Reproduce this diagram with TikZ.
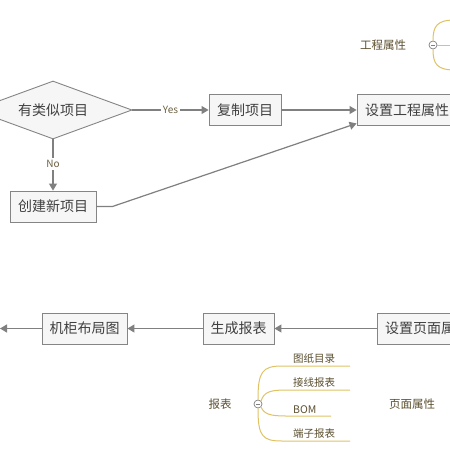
\documentclass[tikz,border=0pt]{standalone}
\usepackage{fontspec}
\newfontfamily\cjk{Noto Sans CJK SC}
\usetikzlibrary{arrows.meta,shapes.geometric,calc}
\definecolor{boxline}{HTML}{858585}
\definecolor{boxfill}{HTML}{F6F6F6}
\definecolor{arrowc}{HTML}{808080}
\definecolor{boxtext}{HTML}{404040}
\definecolor{lbltext}{HTML}{6B6040}
\definecolor{mindtext}{HTML}{5C5030}
\definecolor{gold}{HTML}{E0C265}
\tikzset{
  stepbox/.style={draw=boxline, fill=boxfill, line width=0.9pt, minimum height=31pt,
    inner sep=0pt, text=boxtext, font=\cjk\fontsize{14}{16}\selectfont},
  decision/.style={diamond, draw=boxline, fill=boxfill, line width=0.9pt, aspect=2.72,
    minimum width=158pt, minimum height=58pt, inner sep=0pt, text=boxtext,
    font=\cjk\fontsize{14}{16}\selectfont},
  arr/.style={draw=arrowc, line width=1.2pt, -{Triangle[length=7pt,width=8pt]}},
  plainline/.style={draw=arrowc, line width=1.2pt},
  edgelbl/.style={fill=white, inner sep=2pt, text=lbltext, font=\cjk\fontsize{10}{12}\selectfont},
  mindlbl/.style={text=mindtext, inner sep=0pt, font=\cjk\fontsize{11.5}{13}\selectfont},
  leaflbl/.style={text=mindtext, inner sep=0pt, anchor=west, font=\cjk\fontsize{10.5}{12}\selectfont},
  mind/.style={draw=gold, line width=1pt},
  knob/.style={circle, draw=arrowc, fill=white, line width=0.7pt, minimum size=8pt, inner sep=0pt}
}
\begin{document}
\begin{tikzpicture}[x=1pt,y=-1pt]
\useasboundingbox (0,0) rectangle (450,450);
\clip (0,0) rectangle (450,450);
\fill[white] (0,0) rectangle (450,450);

% top flow
\node[decision] (q) at (53,110) {有类似项目};
\node[stepbox, minimum width=72pt] (copy) at (245,110) {复制项目};
\node[stepbox, minimum width=100pt] (attr) at (407,110) {设置工程属性};
\node[stepbox, minimum width=86pt] (new) at (53,206.5) {创建新项目};

\draw[arr] (q.east) -- node[edgelbl] {Yes} (copy.west);
\draw[arr] (q.south) -- node[edgelbl, pos=0.48] {No} (new.north);
\draw[arr] (copy.east) -- (attr.west);
\coordinate (bend) at ($(new.east)+(16,0)$);
\coordinate (attrin) at ($(attr.south west)+(0,-2.5)$);
\draw[arr] (new.east) -- (bend) -- (attrin);

% bottom flow
\node[stepbox, minimum width=100pt] (page) at (427,328.5) {设置页面属性};
\node[stepbox, minimum width=71pt] (rep) at (238.5,328.5) {生成报表};
\node[stepbox, minimum width=85pt] (cab) at (84.5,328.5) {机柜布局图};
\coordinate (out) at (0,328.5);
\draw[arr] (page.west) -- (rep.east);
\draw[arr] (rep.west) -- (cab.east);
\draw[arr] (cab.west) -- (out);

% top mind map
\node[mindlbl] (proj) at (383,45) {工程属性};
\node[knob] (k1) at (433,45) {};
\coordinate (t1) at (455,20);
\coordinate (t2) at (455,45);
\coordinate (t3) at (455,70);
\draw[mind] (k1.north) .. controls (433,26) and (437,20) .. (t1);
\draw[mind] (k1.east) -- (t2);
\draw[mind] (k1.south) .. controls (433,64) and (437,70) .. (t3);
\draw[arrowc, line width=0.8pt] ($(k1)+(-2,0)$) -- ($(k1)+(2,0)$);

% bottom mind map
\node[mindlbl] (rl) at (220,404) {报表};
\node[mindlbl] (pl) at (412,404) {页面属性};
\node[knob] (k2) at (258,404) {};
\coordinate (e1) at (350,366);
\coordinate (e2) at (350,390);
\coordinate (e3) at (331,416);
\coordinate (e4) at (350,441);
\draw[mind] (k2.north) .. controls (258,372) and (262,366) .. (282,366) -- (e1);
\draw[mind] (k2.north east) .. controls (264,392) and (270,390) .. (286,390) -- (e2);
\draw[mind] (k2.south east) .. controls (264,414) and (270,416) .. (286,416) -- (e3);
\draw[mind] (k2.south) .. controls (258,436) and (262,441) .. (282,441) -- (e4);
\draw[arrowc, line width=0.8pt] ($(k2)+(-2,0)$) -- ($(k2)+(2,0)$);
\node[leaflbl] (l1) at (293,358.5) {图纸目录};
\node[leaflbl] (l2) at (293,383) {接线报表};
\node[leaflbl] (l3) at (293,409.5) {BOM};
\node[leaflbl] (l4) at (293,434) {端子报表};
\end{tikzpicture}
\end{document}
